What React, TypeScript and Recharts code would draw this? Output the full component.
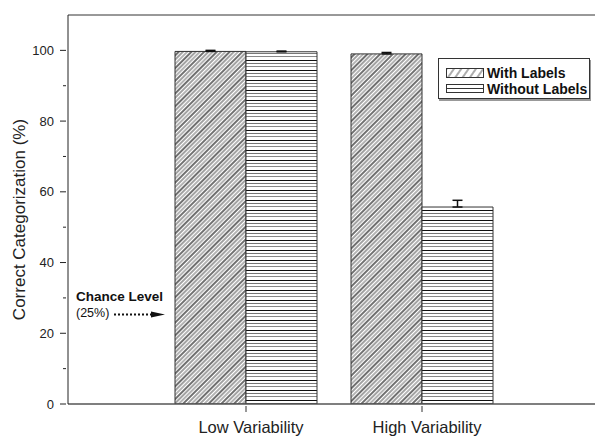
import React from 'react';
import {
  ComposedChart,
  Bar,
  XAxis,
  YAxis,
  ErrorBar,
  ReferenceLine,
} from 'recharts';

const categories = ['Low Variability', 'High Variability'];
const withLabels = [99.7, 99.0];
const withoutLabels = [99.6, 55.7];
const withLabelsErr = [0.3, 0.4];
const withoutLabelsErr = [0.2, 1.9];
const yTicks = [0, 10, 20, 30, 40, 50, 60, 70, 80, 90, 100];
const yLabeled = [0, 20, 40, 60, 80, 100];
const seriesNames = ['With Labels', 'Without Labels'];
const chanceLevel = 25;

const data = categories.map((name, i) => ({
  name,
  withLabels: withLabels[i],
  withErr: [0, withLabelsErr[i]],
  withoutLabels: withoutLabels[i],
  withoutErr: [0, withoutLabelsErr[i]],
}));

const FONT = '"Liberation Sans", Arial, sans-serif';

const Patterns = () => (
  <defs>
    <pattern id="hatchDiag" patternUnits="userSpaceOnUse" width="9" height="9" patternTransform="rotate(-45)">
      <rect width="9" height="9" fill="#fff" />
      <line x1="0" y1="1" x2="9" y2="1" stroke="#111" strokeWidth="1.2" />
      <line x1="0" y1="4" x2="9" y2="4" stroke="#555" strokeWidth="1.1" />
      <line x1="0" y1="7" x2="9" y2="7" stroke="#777" strokeWidth="1.1" />
    </pattern>
    <pattern id="hatchHoriz" patternUnits="userSpaceOnUse" width="10" height="10">
      <rect width="10" height="10" fill="#fff" />
      <line x1="0" y1="0.5" x2="10" y2="0.5" stroke="#111" strokeWidth="1" />
      <line x1="0" y1="3.5" x2="10" y2="3.5" stroke="#777" strokeWidth="1" />
      <line x1="0" y1="6.5" x2="10" y2="6.5" stroke="#888" strokeWidth="1" />
    </pattern>
    <pattern id="legDiag" patternUnits="userSpaceOnUse" width="6" height="6" patternTransform="rotate(-55)">
      <rect width="6" height="6" fill="#fff" />
      <line x1="0" y1="1" x2="6" y2="1" stroke="#777" strokeWidth="1.2" />
    </pattern>
  </defs>
);

const YTick = (props: any) => {
  const { x, y, payload } = props;
  const v = payload.value;
  const major = yLabeled.includes(v);
  return (
    <g>
      <line x1={x - (major ? 6 : 3)} y1={y} x2={x} y2={y} stroke="#222" strokeWidth={1} />
      {major && (
        <text x={x - 12} y={y} dy={4.5} textAnchor="end" fontSize={13} fill="#222" fontFamily={FONT}>
          {v}
        </text>
      )}
    </g>
  );
};

const XTick = (props: any) => {
  const { x, y, payload } = props;
  return (
    <g>
      <line x1={x} y1={y} x2={x} y2={y + 6} stroke="#333" strokeWidth={1} />
      <text x={x + 5} y={y + 27} textAnchor="middle" fontSize={16.5} fill="#222" fontFamily={FONT}>
        {payload.value}
      </text>
    </g>
  );
};

const ChanceShape = (props: any) => {
  const { x1, y1 } = props;
  const x = x1;
  const y = y1;
  return (
    <g fontFamily={FONT}>
      <text x={x + 8} y={y - 15} fontSize={13.5} fontWeight="bold" fill="#111">
        Chance Level
      </text>
      <text x={x + 8} y={y + 1} fontSize={12.5} fill="#111">
        (25%)
      </text>
      <line x1={x + 46} y1={y - 1} x2={x + 84} y2={y - 1} stroke="#111" strokeWidth={2} strokeDasharray="2 2" />
      <polygon points={`${x + 83},${y - 4} ${x + 97},${y - 1} ${x + 83},${y + 2}`} fill="#111" />
    </g>
  );
};

const YLabel = (props: any) => {
  const vb = props.viewBox || { x: 0, y: 15, width: 68, height: 389 };
  const cx = 25;
  const cy = vb.y + vb.height / 2 + 10;
  return (
    <text
      x={cx}
      y={cy}
      transform={`rotate(-90, ${cx}, ${cy})`}
      textAnchor="middle"
      fontSize={17}
      fill="#222"
      fontFamily={FONT}
    >
      Correct Categorization (%)
    </text>
  );
};

const LegendBox = () => (
  <div
    style={{
      position: 'absolute',
      left: 438,
      top: 58,
      border: '1px solid #333',
      boxShadow: '1px 2px 0 #999',
      background: '#fff',
      width: 152,
      height: 41,
      boxSizing: 'border-box',
      padding: '6px 0 0 7px',
      fontFamily: FONT,
      fontWeight: 'bold',
      fontSize: 14,
      color: '#111',
      lineHeight: '16px',
      whiteSpace: 'nowrap',
    }}
  >
    {seriesNames.map((n, i) => (
      <div key={n} style={{ display: 'flex', alignItems: 'center', height: 16 }}>
        <svg width={38} height={10} style={{ marginRight: 3, flex: 'none' }}>
          {i === 0 ? (
            <rect x={0.5} y={0.5} width={37} height={9} fill="url(#legDiag)" stroke="#333" />
          ) : (
            <g>
              <rect x={0.5} y={0.5} width={37} height={8} fill="#fff" stroke="#333" />
              <line x1={0} y1={4.5} x2={38} y2={4.5} stroke="#333" />
            </g>
          )}
        </svg>
        <span>{n}</span>
      </div>
    ))}
  </div>
);

export default function App() {
  return (
    <div style={{ position: 'absolute', left: 0, top: 0, width: 595, height: 437, overflow: 'hidden', background: '#fff' }}>
      <ComposedChart
        width={600}
        height={437}
        data={data}
        margin={{ top: 15, right: 2, bottom: 0, left: 0 }}
        barGap={0}
      >
        <Patterns />
        <XAxis
          dataKey="name"
          type="category"
          padding={{ left: 90, right: 88 }}
          height={33}
          tickSize={0}
          tickLine={false}
          tick={<XTick />}
          axisLine={{ stroke: '#555', strokeWidth: 1.5 }}
          interval={0}
        />
        <YAxis
          domain={[0, 110]}
          ticks={yTicks}
          width={68}
          tickSize={0}
          tickLine={false}
          tick={<YTick />}
          axisLine={{ stroke: '#222', strokeWidth: 1 }}
          allowDataOverflow
          label={{ content: <YLabel /> } as any}
        />
        <ReferenceLine y={110} stroke="#333" strokeWidth={1} ifOverflow="extendDomain" />
        <Bar
          dataKey="withLabels"
          name={seriesNames[0]}
          barSize={71}
          fill="url(#hatchDiag)"
          stroke="#333"
          strokeWidth={1}
          isAnimationActive={false}
        >
          <ErrorBar dataKey="withErr" width={5} stroke="#111" strokeWidth={1.5} direction="y" />
        </Bar>
        <Bar
          dataKey="withoutLabels"
          name={seriesNames[1]}
          barSize={71}
          fill="url(#hatchHoriz)"
          stroke="#333"
          strokeWidth={1}
          isAnimationActive={false}
        >
          <ErrorBar dataKey="withoutErr" width={5} stroke="#111" strokeWidth={1.5} direction="y" />
        </Bar>
        <ReferenceLine y={chanceLevel} stroke="none" shape={<ChanceShape />} />
      </ComposedChart>
      <LegendBox />
    </div>
  );
}
